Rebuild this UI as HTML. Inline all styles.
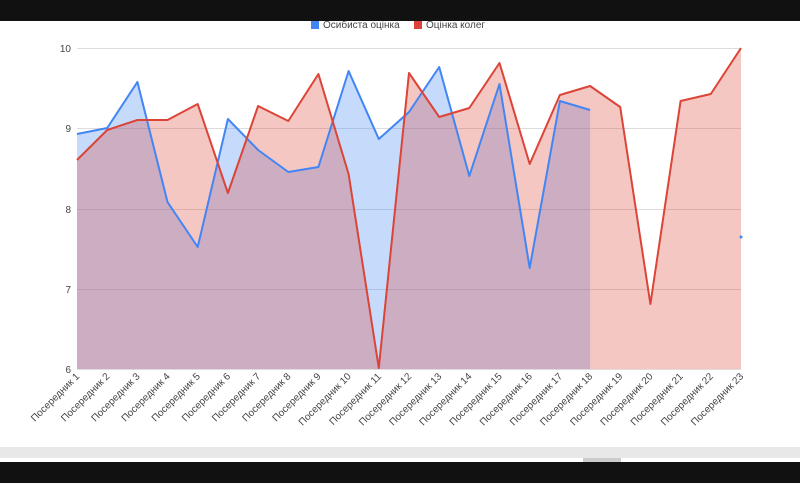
<!DOCTYPE html>
<html><head><meta charset="utf-8"><style>
body{margin:0;width:800px;height:483px;overflow:hidden;background:#fff;font-family:"Liberation Sans",Arial,sans-serif}
</style></head><body>
<svg width="800" height="483" xmlns="http://www.w3.org/2000/svg" font-family="Liberation Sans, Arial, sans-serif">
<rect width="800" height="483" fill="#fff"/>
<rect x="0" y="0" width="800" height="21" fill="#111"/>
<rect x="0" y="447" width="800" height="11" fill="#e8e8e8"/>
<rect x="0" y="462" width="800" height="21" fill="#111"/>
<rect x="583" y="458" width="38" height="4" fill="#ccc"/>
<!-- legend -->
<rect x="311" y="21" width="8" height="8" fill="#4285f4"/>
<text x="323" y="28" font-size="10" fill="#444">Осибиста оцінка</text>
<rect x="414" y="21" width="8" height="8" fill="#db4437"/>
<text x="426" y="28" font-size="10" fill="#444">Оцінка колег</text>
<!-- grid -->
<g stroke="#ddd" stroke-width="1">
<line x1="77" y1="48.5" x2="741" y2="48.5"/>
<line x1="77" y1="128.5" x2="741" y2="128.5"/>
<line x1="77" y1="209.5" x2="741" y2="209.5"/>
<line x1="77" y1="289.5" x2="741" y2="289.5"/>
<line x1="77" y1="369.5" x2="741" y2="369.5"/>
</g>
<g font-size="10" fill="#444" text-anchor="end">
<text x="71" y="52">10</text><text x="71" y="132">9</text><text x="71" y="213">8</text><text x="71" y="293">7</text><text x="71" y="373">6</text>
</g>
<!-- blue -->
<polygon fill="#4285f4" fill-opacity="0.3" points="77,369 77,134 107.2,128 137.4,82 167.5,202 197.7,247 227.9,119 258.1,150 288.3,172 318.4,167 348.6,71 378.8,139 409,112 439.2,67 469.3,176 499.5,84 529.7,268 559.9,101 590.1,110 590.1,369"/>
<!-- red -->
<polygon fill="#db4437" fill-opacity="0.3" points="77,369 77,160 107.2,130 137.4,120 167.5,120 197.7,104 227.9,193 258.1,106 288.3,121 318.4,74 348.6,174 378.8,368 409,73 439.2,117 469.3,108 499.5,63 529.7,164 559.9,95 590.1,86 620.2,107 650.4,304 680.6,101 710.8,94 741,48 741,369"/>
<polyline fill="none" stroke="#4285f4" stroke-width="2" stroke-linejoin="round" points="77,134 107.2,128 137.4,82 167.5,202 197.7,247 227.9,119 258.1,150 288.3,172 318.4,167 348.6,71 378.8,139 409,112 439.2,67 469.3,176 499.5,84 529.7,268 559.9,101 590.1,110"/>
<polyline fill="none" stroke="#db4437" stroke-width="2" stroke-linejoin="round" points="77,160 107.2,130 137.4,120 167.5,120 197.7,104 227.9,193 258.1,106 288.3,121 318.4,74 348.6,174 378.8,368 409,73 439.2,117 469.3,108 499.5,63 529.7,164 559.9,95 590.1,86 620.2,107 650.4,304 680.6,101 710.8,94 741,48"/>
<circle cx="741" cy="237" r="1.5" fill="#4285f4"/>
<!-- x labels -->
<g font-size="10" fill="#444" text-anchor="end">
<text transform="translate(80,377) rotate(-45)">Посередник 1</text>
<text transform="translate(110.2,377) rotate(-45)">Посередник 2</text>
<text transform="translate(140.4,377) rotate(-45)">Посередник 3</text>
<text transform="translate(170.5,377) rotate(-45)">Посередник 4</text>
<text transform="translate(200.7,377) rotate(-45)">Посередник 5</text>
<text transform="translate(230.9,377) rotate(-45)">Посередник 6</text>
<text transform="translate(261.1,377) rotate(-45)">Посередник 7</text>
<text transform="translate(291.3,377) rotate(-45)">Посередник 8</text>
<text transform="translate(321.4,377) rotate(-45)">Посередник 9</text>
<text transform="translate(351.6,377) rotate(-45)">Посередник 10</text>
<text transform="translate(381.8,377) rotate(-45)">Посередник 11</text>
<text transform="translate(412,377) rotate(-45)">Посередник 12</text>
<text transform="translate(442.2,377) rotate(-45)">Посередник 13</text>
<text transform="translate(472.3,377) rotate(-45)">Посередник 14</text>
<text transform="translate(502.5,377) rotate(-45)">Посередник 15</text>
<text transform="translate(532.7,377) rotate(-45)">Посередник 16</text>
<text transform="translate(562.9,377) rotate(-45)">Посередник 17</text>
<text transform="translate(593.1,377) rotate(-45)">Посередник 18</text>
<text transform="translate(623.2,377) rotate(-45)">Посередник 19</text>
<text transform="translate(653.4,377) rotate(-45)">Посередник 20</text>
<text transform="translate(683.6,377) rotate(-45)">Посередник 21</text>
<text transform="translate(713.8,377) rotate(-45)">Посередник 22</text>
<text transform="translate(744,377) rotate(-45)">Посередник 23</text>
</g>
</svg>
</body></html>
